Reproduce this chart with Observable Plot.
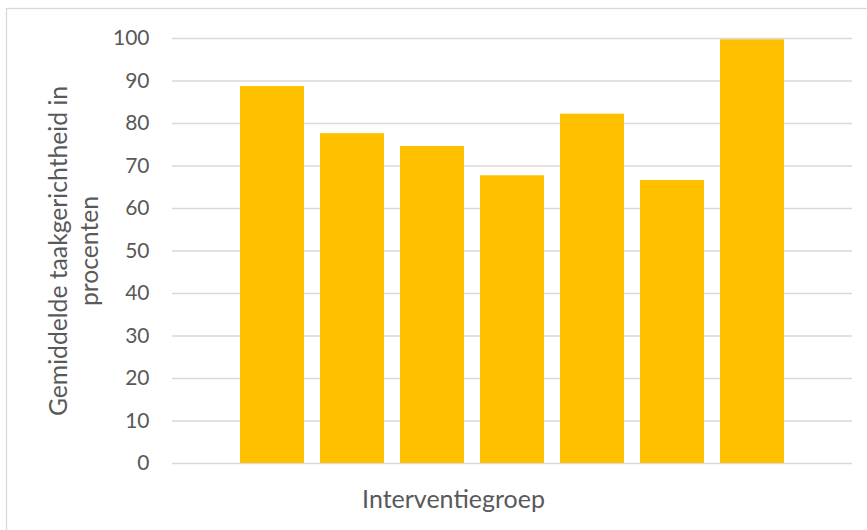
<!DOCTYPE html>
<html>
<head>
<meta charset="utf-8">
<script src="https://cdn.jsdelivr.net/npm/d3@7"></script>
<script src="https://cdn.jsdelivr.net/npm/@observablehq/plot@0.6"></script>
<style>
  body { margin: 0; background: #fff; }
  #chart svg { display: block; }
</style>
</head>
<body>
<div id="chart"></div>
<script>
// Mean task-orientation (%) per session of the intervention group
const groups = ["1", "2", "3", "4", "5", "6", "7"];
const values = [88.7, 77.6, 74.6, 67.7, 82.2, 66.6, 99.7];
const yTicks = [0, 10, 20, 30, 40, 50, 60, 70, 80, 90, 100];
const xTitle = "Interventiegroep";
const yTitle = "Gemiddelde taakgerichtheid in\nprocenten";

const data = groups.map((g, i) => ({group: g, value: values[i]}));

const textColor = "#595959";
const gridColor = "#d9d9d9";
const barColor = "#ffc000";

// light outline of the chart area
const chartBorder = (index, scales, vals, dims) => {
  const r = document.createElementNS("http://www.w3.org/2000/svg", "rect");
  r.setAttribute("x", 6.5);
  r.setAttribute("y", 8.5);
  r.setAttribute("width", dims.width + 20);
  r.setAttribute("height", dims.height + 20);
  r.setAttribute("fill", "none");
  r.setAttribute("stroke", gridColor);
  r.setAttribute("stroke-width", 1.3);
  return r;
};

const chart = Plot.plot({
  width: 867,
  height: 530,
  marginLeft: 172,
  marginRight: 15,
  marginTop: 38,
  marginBottom: 67,
  style: {background: "#fff", fontFamily: "Lato, 'Open Sans', sans-serif", color: textColor},
  x: {type: "band", domain: groups, paddingInner: 0.2, paddingOuter: 0.84, axis: null},
  y: {domain: [0, 100], axis: null},
  marks: [
    chartBorder,
    Plot.ruleY(yTicks, {stroke: gridColor, strokeWidth: 1.5}),
    Plot.barY(data, {x: "group", y: "value", fill: barColor}),
    Plot.axisY(yTicks, {
      tickSize: 0,
      tickPadding: 23,
      fontSize: 21,
      fill: textColor,
      label: null
    }),
    Plot.text([xTitle], {
      frameAnchor: "bottom",
      dx: -59,
      dy: 44,
      fontSize: 25,
      fill: textColor
    }),
    Plot.text([yTitle], {
      frameAnchor: "left",
      textAnchor: "middle",
      lineAnchor: "middle",
      rotate: -90,
      dx: -100,
      lineHeight: 1.28,
      fontSize: 24.7,
      fill: textColor
    })
  ]
});

document.getElementById("chart").appendChild(chart);
</script>
</body>
</html>
